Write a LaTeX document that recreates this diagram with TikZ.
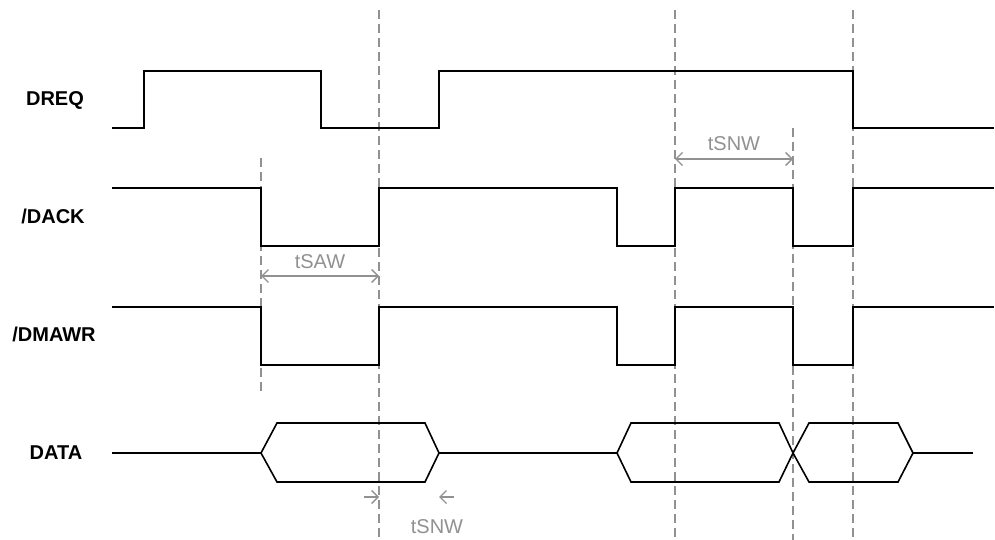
\documentclass[tikz,border=0pt]{standalone}
\usepackage{fontspec}
\setmainfont{Liberation Sans}
\usetikzlibrary{arrows.meta}
\definecolor{guidegray}{RGB}{145,145,145}
\begin{document}
\begin{tikzpicture}[x=1pt,y=-1pt,
  sig/.style={line width=1.6pt, line join=miter, line cap=rect},
  guide/.style={draw=guidegray, line width=1.4pt, dash pattern=on 9pt off 5pt},
  barb/.tip={Straight Barb[length=6.5pt,width=13pt,line width=1.4pt]},
  meas/.style={draw=guidegray, line width=1.4pt},
  siglabel/.style={font=\bfseries\fontsize{20}{24}\selectfont},
  measlabel/.style={text=guidegray, font=\fontsize{20}{24}\selectfont}]
\useasboundingbox (0,0) rectangle (995,540);

% signal labels
\node[siglabel] (lDREQ) at (55,100) {DREQ};
\node[siglabel] (lDACK) at (53,216) {/DACK};
\node[siglabel] (lDMAWR) at (54,334) {/DMAWR};
\node[siglabel] (lDATA) at (56,453) {DATA};

% guide lines (dashed)
\draw[guide] (379,10) -- (379,540);
\draw[guide] (675,10) -- (675,540);
\draw[guide] (853,10) -- (853,540);
\draw[guide] (793,128) -- (793,540);
\draw[guide] (261,158) -- (261,395);

% DREQ
\draw[sig] (113,128) -- (144,128) -- (144,71) -- (321,71) -- (321,128)
  -- (439,128) -- (439,71) -- (853,71) -- (853,128) -- (993,128);

% /DACK
\draw[sig] (113,188) -- (261,188) -- (261,246) -- (379,246) -- (379,188)
  -- (617,188) -- (617,246) -- (675,246) -- (675,188) -- (793,188)
  -- (793,246) -- (853,246) -- (853,188) -- (993,188);

% /DMAWR
\draw[sig] (113,307) -- (261,307) -- (261,365) -- (379,365) -- (379,307)
  -- (617,307) -- (617,365) -- (675,365) -- (675,307) -- (793,307)
  -- (793,365) -- (853,365) -- (853,307) -- (993,307);

% DATA
\draw[sig] (113,453) -- (261,453);
\draw[sig] (261,453) -- (277,423) -- (425,423) -- (439,453) -- (425,482)
  -- (277,482) -- cycle;
\draw[sig] (439,453) -- (617,453);
\draw[sig] (617,453) -- (631,423) -- (779,423) -- (793,453) -- (779,482)
  -- (631,482) -- cycle;
\draw[sig] (793,453) -- (809,423) -- (898,423) -- (913,453) -- (898,482)
  -- (809,482) -- cycle;
\draw[sig] (913,453) -- (972,453);

% measurements
\coordinate (sawL) at (261,276);
\coordinate (sawR) at (379,276);
\draw[meas, {barb}-{barb}] (sawL) -- (sawR);
\node[measlabel] (tSAW) at (320,262) {tSAW};

\coordinate (snwL) at (675,159);
\coordinate (snwR) at (793,159);
\draw[meas, {barb}-{barb}] (snwL) -- (snwR);
\node[measlabel] (tSNW1) at (734,144) {tSNW};

\coordinate (h1a) at (364,497);
\coordinate (h1b) at (379,497);
\coordinate (h2a) at (454,497);
\coordinate (h2b) at (439,497);
\draw[meas, -{barb}] (h1a) -- (h1b);
\draw[meas, -{barb}] (h2a) -- (h2b);
\node[measlabel] (tSNW2) at (437,527) {tSNW};
\end{tikzpicture}
\end{document}
